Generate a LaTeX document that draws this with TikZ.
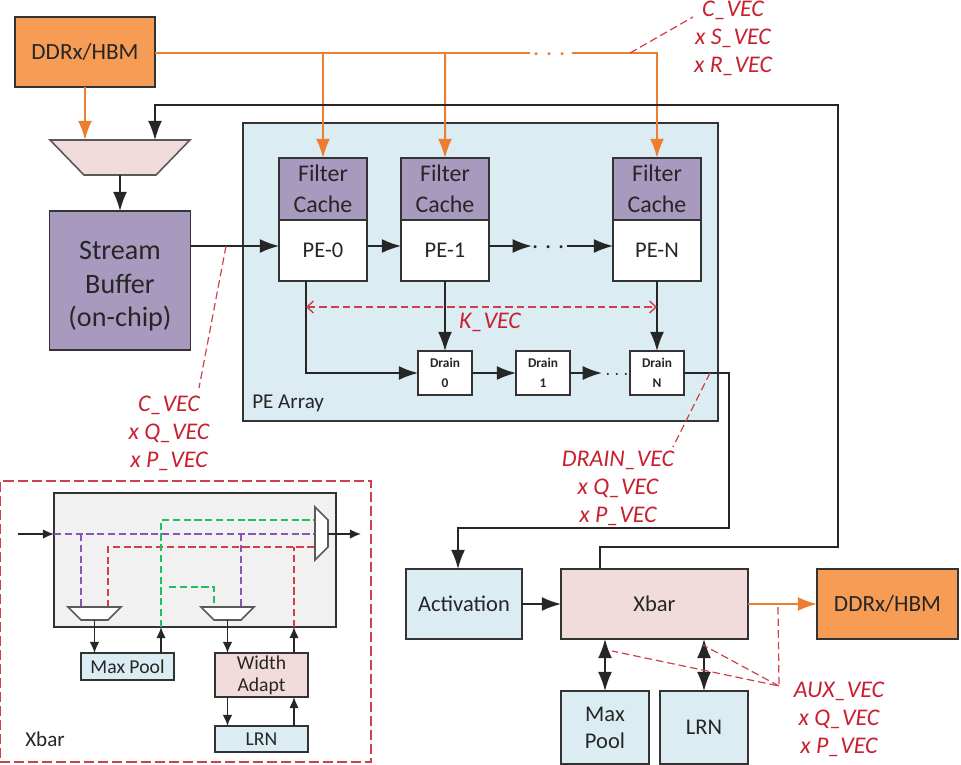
\documentclass[tikz,border=0pt]{standalone}
\usepackage{fontspec}
\setmainfont{Carlito}
\usepackage{tikz}
\usetikzlibrary{arrows.meta,positioning,calc}
\definecolor{orangeFill}{HTML}{F79C55}
\definecolor{orangeLine}{HTML}{ED7D31}
\definecolor{purpleFill}{HTML}{A899BE}
\definecolor{blueFill}{HTML}{DBEDF3}
\definecolor{pinkFill}{HTML}{F2DCDB}
\definecolor{grayFill}{HTML}{F1F1F1}
\definecolor{vecRed}{HTML}{C8202F}
\definecolor{dashRed}{HTML}{D0404A}
\definecolor{dashGreen}{HTML}{1FBF62}
\definecolor{dashPurple}{HTML}{8A55B5}

\begin{document}
\begin{tikzpicture}[x=.25mm, y=-.25mm]
\tikzset{
    %arrow tips
    >={Latex[length=4.8mm,width=3.5mm]},
    %blocks
    blok/.style={
           rectangle, draw=black!80, line width=.4mm,
           inner sep=0pt, outer sep=0pt,
           text=black!85, align=center},
    ddr/.style={blok, fill=orangeFill, minimum width=35mm, minimum height=17.5mm, font=\fontsize{16.5}{20}\selectfont},
    filtr/.style={blok, fill=purpleFill, minimum width=22mm, minimum height=15.5mm, font=\fontsize{17}{22}\selectfont},
    pe/.style={blok, fill=white, minimum width=22mm, minimum height=15.25mm, font=\fontsize{16}{20}\selectfont},
    drain/.style={blok, fill=white, minimum width=13.5mm, minimum height=11mm, font=\fontsize{9.5}{14}\bfseries\selectfont},
    aux/.style={blok, fill=blueFill, font=\fontsize{16}{19}\selectfont},
    small/.style={blok, fill=blueFill, minimum width=23.25mm, font=\fontsize{14}{16}\selectfont},
    muxpole/.style={rectangle, inner sep=0pt, outer sep=0pt},
    muxline/.style={draw=black!65, line width=.4mm},
    %red labels
    wektor/.style={text=vecRed, font=\fontsize{17}{20}\itshape\selectfont, align=center, inner sep=0pt},
    kropki/.style={inner sep=0pt, font=\fontsize{20}{20}\selectfont},
    %connectors
    conn/.style={draw=black!85, line width=.4mm},
    mem/.style={draw=orangeLine, line width=.5mm},
    link/.style={draw=dashRed, line width=.3mm, dash pattern=on 1.9mm off 1mm},
    inner/.style={line width=.4mm, dash pattern=on 1.8mm off .9mm},
    thin/.style={draw=black!85, line width=.4mm, >={Latex[length=2.8mm,width=2.4mm]}}
}
\useasboundingbox (0,0) rectangle (961,764);

%PE array
\node[blok, fill=blueFill, minimum width=118.75mm, minimum height=74.5mm] (peArray) at (480.5,272) {};
\node[anchor=west, inner sep=0pt, text=black!85, font=\fontsize{15}{18}\selectfont] (peLabel) at (252,403) {PE Array};

%Memory and stream buffer
\node[ddr] (ddrIn) at (85,52) {DDRx/HBM};
\node[muxpole, minimum width=35mm, minimum height=8.75mm] (muxIn) at (120,157.5) {};
\draw[muxline, fill=pinkFill] (muxIn.north west) -- (muxIn.north east) -- ($(muxIn.south east)+(-34,0)$) -- ($(muxIn.south west)+(34,0)$) -- cycle;
\node[blok, fill=purpleFill, minimum width=35.25mm, minimum height=34.75mm,
      below=9mm of muxIn, font=\fontsize{20}{23.5}\selectfont] (stream) {\rule{0pt}{21pt}Stream\\Buffer\\(on-chip)};

%PEs
\node[filtr] (fc0) at (323,189) {Filter\\Cache};
\node[filtr, right=8.5mm of fc0] (fc1) {Filter\\Cache};
\node[filtr] (fcN) at (657,189) {Filter\\Cache};
\node[pe, below=0pt of fc0] (pe0) {PE-0};
\node[pe, below=0pt of fc1] (pe1) {PE-1};
\node[pe, below=0pt of fcN] (peN) {PE-N};
\coordinate (peRow) at (549,246);
\node[kropki, text=black!85] (peDots) at (549,248) {${\cdot}\,{\cdot}\,{\cdot}$};

%Drains
\node[drain] (drain0) at (445,373) {Drain\\0};
\node[drain, right=11mm of drain0] (drain1) {Drain\\1};
\node[drain] (drainN) at (657,373) {Drain\\N};
\node[kropki, text=black!85, font=\fontsize{15}{15}\selectfont] (drainDots) at (617,374.5) {${\cdot}\,{\cdot}\,{\cdot}$};

%Lower right blocks
\node[aux, minimum width=29mm, minimum height=17.5mm] (activ) at (464,604) {Activation};
\node[aux, fill=pinkFill, minimum width=46.75mm, minimum height=17.5mm, right=9.75mm of activ] (xbar) {Xbar};
\node[ddr, minimum width=35.25mm, right=17.25mm of xbar] (ddrOut) {DDRx/HBM};
\node[aux, minimum width=22mm, minimum height=18.25mm] (pool) at (605,727.5) {Max\\Pool};
\node[aux, minimum width=22mm, minimum height=18.25mm] (lrn) at (704,727.5) {LRN};

%Xbar detail
\node[draw=dashRed, line width=.5mm, dash pattern=on 2.5mm off 1mm, minimum width=92.5mm, minimum height=70.25mm,
      inner sep=0pt] (xbarFrame) at (185.5,621.5) {};
\node[blok, fill=grayFill, minimum width=70.5mm, minimum height=33.5mm] (xbarBox) at (195,560) {};
\node[anchor=west, inner sep=0pt, text=black!85, font=\fontsize{15}{18}\selectfont] (xbarLabel) at (25,739) {Xbar};
\node[muxpole, minimum width=13.25mm, minimum height=3.25mm] (muxA) at (94.5,613.5) {};
\node[muxpole, minimum width=13.25mm, minimum height=3.25mm] (muxB) at (227.5,613.5) {};
\node[muxpole, minimum width=3.25mm, minimum height=13.25mm] (muxOut) at (321.5,533.5) {};
\node[small, minimum height=6.75mm] (poolB) at (127.5,666.5) {Max Pool};
\node[small, fill=pinkFill, minimum height=11mm] (adapt) at (261.5,675) {Width\\Adapt};
\node[small, minimum height=6.5mm] (lrnB) at (261.5,739) {LRN};

\coordinate (inL) at (18,534);
\coordinate (outR) at (361,534);
\coordinate (gIn) at (161,627);
\coordinate (gTop) at (161,520);
\coordinate (gA) at (169,587);
\coordinate (gB) at (214,587);
\coordinate (rIn) at (294,627);
\coordinate (rA) at (108,547);
\coordinate (pA) at (81,534);
\coordinate (pB) at (241,534);

%Labels
\node[wektor] (vecTop) at (733,38) {C\_VEC\\x S\_VEC\\x R\_VEC};
\node[wektor] (vecLeft) at (169,433) {C\_VEC\\x Q\_VEC\\x P\_VEC};
\node[wektor] (vecDrain) at (618,488) {DRAIN\_VEC\\x Q\_VEC\\x P\_VEC};
\node[wektor] (vecAux) at (839,719) {AUX\_VEC\\x Q\_VEC\\x P\_VEC};
\node[wektor] (vecK) at (490,322) {K\_VEC};

%Memory lines
\coordinate (busA) at (323,53);
\coordinate (busB) at (445,53);
\coordinate (busC) at (657,53);
\node[kropki, text=orangeLine] (busDots) at (550,55) {${\cdot}\,{\cdot}\,{\cdot}$};
\draw[mem] (ddrIn.east |- busA) -- (busA) -- (busB) -- ([xshift=-.75mm]busDots.west |- busB);
\draw[mem, ->] ([xshift=1.25mm]busDots.east |- busB) -- (busC) -- (fcN.north);
\draw[mem, ->] (busA) -- (fc0.north);
\draw[mem, ->] (busB) -- (fc1.north);
\draw[mem, ->] (ddrIn.south) -- (ddrIn.south |- muxIn.north);
\draw[mem, ->] (xbar.east) -- (ddrOut.west);

%Arrows
\coordinate (fbA) at (600,547);
\coordinate (fbB) at (838,547);
\coordinate (fbC) at (838,105);
\coordinate (fbD) at (155,105);
\draw[conn, ->] (fbA |- xbar.north) -- (fbA) -- (fbB) -- (fbC) -- (fbD) -- (fbD |- muxIn.north);
\draw[conn, ->] (muxIn.south) -- (stream.north);
\draw[conn, ->] (stream.east |- peRow) -- (pe0.west |- peRow);
\draw[conn, ->] (pe0.east |- peRow) -- (pe1.west |- peRow);
\draw[conn, ->] (pe1.east |- peRow) -- (peDots.west |- peRow);
\draw[conn, ->] ([xshift=.25mm]peDots.east |- peRow) -- (peN.west |- peRow);
\coordinate (peDown) at (306,281);
\draw[conn, ->] (peDown) |- (drain0.west);
\draw[conn, ->] (pe1.south) -- (drain0.north);
\draw[conn, ->] (peN.south) -- (drainN.north);
\draw[conn, ->] (drain0) -- (drain1);
\draw[conn, ->] (drain1.east) -- ([xshift=-.75mm]drainDots.west |- drain1.east);
\coordinate (drA) at (729,373);
\coordinate (drB) at (729,528);
\coordinate (drC) at (458,528);
\draw[conn, ->] (drainN.east) -- (drA) -- (drB) -- (drC) -- (drC |- activ.north);
\draw[conn, ->] (activ) -- (xbar);
\draw[conn, <->] (pool.north) -- (pool.north |- xbar.south);
\draw[conn, <->] (lrn.north) -- (lrn.north |- xbar.south);

%Red dashed links
\coordinate (kL) at (306,307);
\coordinate (kR) at (657,307);
\draw[draw=dashRed, line width=.35mm, dash pattern=on 1.9mm off 1mm, <->, >={Straight Barb[length=1.6mm,width=3mm]}] (kL) -- (kR);
\coordinate (lnkA) at (630,53);
\coordinate (lnkB) at (693,17);
\coordinate (lnkC) at (226,246);
\coordinate (lnkD) at (199,388);
\coordinate (lnkE) at (710,373);
\coordinate (lnkF) at (673,447);
\coordinate (auxHub) at (779,686);
\coordinate (auxA) at (778,607);
\coordinate (auxB) at (612,651);
\coordinate (auxC) at (703,645);
\draw[link] (lnkA) -- (lnkB);
\draw[link] (lnkC) -- (lnkD);
\draw[link] (lnkE) -- (lnkF);
\draw[link] (auxA) -- (auxHub) -- (auxB);
\draw[link] (auxHub) -- (auxC);

%Xbar detail, dashed paths
\draw[inner, draw=dashPurple] (xbarBox.west |- inL) -- (muxOut.west |- inL);
\draw[inner, draw=dashPurple] (pA) -- (pA |- muxA.north);
\draw[inner, draw=dashPurple] (pB) -- (pB |- muxB.north);
\draw[inner, draw=dashRed] (rA |- muxA.north) -- (rA) -- (muxOut.west |- rA);
\draw[inner, draw=dashRed] (rIn) -- (rIn |- rA);
\draw[inner, draw=dashGreen] (gIn) -- (gTop) -- (gTop -| muxOut.west);
\draw[inner, draw=dashGreen] (gA) -- (gB) -- (gB |- muxB.north);

%Small muxes
\draw[muxline, fill=white] (muxA.north west) -- (muxA.north east) -- ($(muxA.south east)+(-13,0)$) -- ($(muxA.south west)+(13,0)$) -- cycle;
\draw[muxline, fill=white] (muxB.north west) -- (muxB.north east) -- ($(muxB.south east)+(-13,0)$) -- ($(muxB.south west)+(13,0)$) -- cycle;
\draw[muxline, fill=white] (muxOut.north west) -- ($(muxOut.north east)+(0,13)$) -- ($(muxOut.south east)+(0,-13)$) -- (muxOut.south west) -- cycle;

%Xbar detail, arrows
\draw[thin, ->] (inL) -- (inL -| xbarBox.west);
\draw[thin, ->] (muxOut.east |- outR) -- (outR);
\draw[thin, ->] (muxA.south) -- (muxA.south |- poolB.north);
\draw[thin, ->] (gIn |- poolB.north) -- (gIn);
\draw[thin, ->] (muxB.south) -- (muxB.south |- adapt.north);
\draw[thin, ->] (rIn |- adapt.north) -- (rIn);
\draw[thin, ->] (muxB.south |- adapt.south) -- (muxB.south |- lrnB.north);
\draw[thin, ->] (rIn |- lrnB.north) -- (rIn |- adapt.south);
\end{tikzpicture}
\end{document}
